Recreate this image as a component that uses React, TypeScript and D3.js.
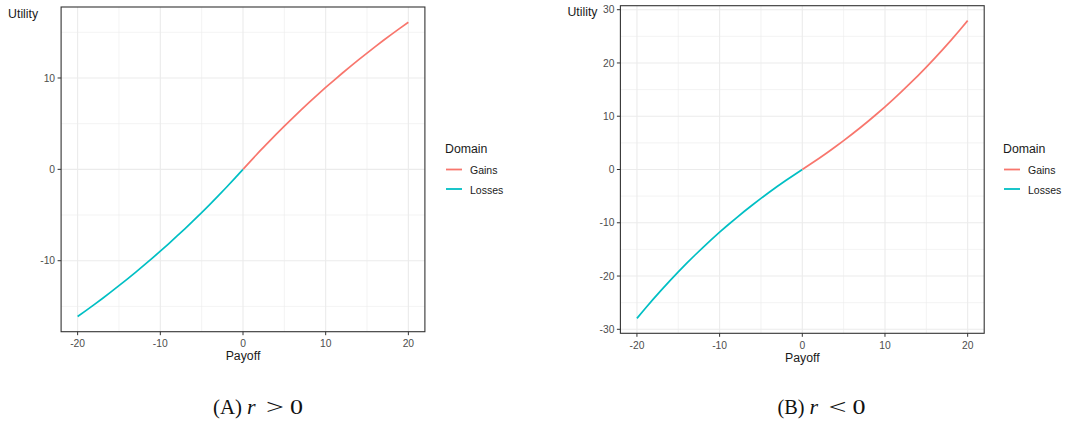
import React from "react";
import * as d3 from "d3";

const payoffLosses = [-20, -19, -18, -17, -16, -15, -14, -13, -12, -11, -10, -9, -8, -7, -6, -5, -4, -3, -2, -1, 0];
const payoffGains = [0, 1, 2, 3, 4, 5, 6, 7, 8, 9, 10, 11, 12, 13, 14, 15, 16, 17, 18, 19, 20];

// Panel A: r > 0
const lossesA = [-16.1, -15.46, -14.8, -14.13, -13.44, -12.73, -12.01, -11.27, -10.52, -9.74, -8.96, -8.15, -7.32, -6.48, -5.61, -4.73, -3.83, -2.9, -1.96, -0.99, 0];
const gainsA = [0, 0.99, 1.96, 2.9, 3.83, 4.73, 5.61, 6.48, 7.32, 8.15, 8.96, 9.74, 10.52, 11.27, 12.01, 12.73, 13.44, 14.13, 14.8, 15.46, 16.1];

// Panel B: r < 0
const lossesB = [-27.95, -26.1, -24.29, -22.55, -20.86, -19.22, -17.64, -16.1, -14.61, -13.17, -11.77, -10.42, -9.11, -7.84, -6.61, -5.42, -4.27, -3.15, -2.07, -1.02, 0];
const gainsB = [0, 1.02, 2.07, 3.15, 4.27, 5.42, 6.61, 7.84, 9.11, 10.42, 11.77, 13.17, 14.61, 16.1, 17.64, 19.22, 20.86, 22.55, 24.29, 26.1, 27.95];

const xMajor = [-20, -10, 0, 10, 20];
const xMinor = [-15, -5, 5, 15];
const yMajorA = [-10, 0, 10];
const yMinorA = [-15, -5, 5, 15];
const yMajorB = [-30, -20, -10, 0, 10, 20, 30];
const yMinorB = [-25, -15, -5, 5, 15, 25];

const legendLabels = ["Gains", "Losses"];
const colors = ["#F8766D", "#00BFC4"];

type PanelProps = {
  left: number;
  right: number;
  top: number;
  bottom: number;
  yDomain: [number, number];
  yMajor: number[];
  yMinor: number[];
  gains: number[];
  losses: number[];
  legendX: number;
  caption: string;
  captionSym: string;
  captionX: number;
  capW: number;
};

function Panel(p: PanelProps) {
  const x = d3.scaleLinear().domain([-22, 22]).range([p.left, p.right]);
  const y = d3.scaleLinear().domain(p.yDomain).range([p.bottom, p.top]);
  const line = d3
    .line<[number, number]>()
    .x((d) => x(d[0]))
    .y((d) => y(d[1]));
  const gPts = payoffGains.map((v, i) => [v, p.gains[i]] as [number, number]);
  const lPts = payoffLosses.map((v, i) => [v, p.losses[i]] as [number, number]);
  const font = "'Liberation Sans', Arial, sans-serif";
  const serif = "'Liberation Serif', 'DejaVu Serif', serif";
  const cw = p.capW;
  return (
    <g>
      <rect x={p.left} y={p.top} width={p.right - p.left} height={p.bottom - p.top} fill="white" />
      {xMinor.map((t) => (
        <line key={"xm" + t} x1={x(t)} x2={x(t)} y1={p.top} y2={p.bottom} stroke="#ebebeb" strokeWidth={0.6} />
      ))}
      {p.yMinor.map((t) => (
        <line key={"ym" + t} x1={p.left} x2={p.right} y1={y(t)} y2={y(t)} stroke="#ebebeb" strokeWidth={0.6} />
      ))}
      {xMajor.map((t) => (
        <line key={"xM" + t} x1={x(t)} x2={x(t)} y1={p.top} y2={p.bottom} stroke="#ebebeb" strokeWidth={1.1} />
      ))}
      {p.yMajor.map((t) => (
        <line key={"yM" + t} x1={p.left} x2={p.right} y1={y(t)} y2={y(t)} stroke="#ebebeb" strokeWidth={1.1} />
      ))}
      <path d={line(lPts) || ""} fill="none" stroke={colors[1]} strokeWidth={1.7} />
      <path d={line(gPts) || ""} fill="none" stroke={colors[0]} strokeWidth={1.7} />
      <rect x={p.left} y={p.top} width={p.right - p.left} height={p.bottom - p.top} fill="none" stroke="#333333" strokeWidth={1.1} />
      {xMajor.map((t) => (
        <g key={"xt" + t}>
          <line x1={x(t)} x2={x(t)} y1={p.bottom} y2={p.bottom + 3.5} stroke="#333333" strokeWidth={1} />
          <text x={x(t)} y={p.bottom + 15.5} textAnchor="middle" fontFamily={font} fontSize={10.3} fill="#4d4d4d">
            {t}
          </text>
        </g>
      ))}
      {p.yMajor.map((t) => (
        <g key={"yt" + t}>
          <line x1={p.left - 3.5} x2={p.left} y1={y(t)} y2={y(t)} stroke="#333333" strokeWidth={1} />
          <text x={p.left - 6} y={y(t) + 3.7} textAnchor="end" fontFamily={font} fontSize={10.3} fill="#4d4d4d">
            {t}
          </text>
        </g>
      ))}
      <text x={(p.left + p.right) / 2} y={p.bottom + 28.5} textAnchor="middle" fontFamily={font} fontSize={12.3} fill="#1a1a1a">
        Payoff
      </text>
      <text x={p.left - 53} y={p.top + 10.5} fontFamily={font} fontSize={12.3} fill="#1a1a1a" textAnchor="start">
        Utility
      </text>
      <text x={p.legendX} y={152.5} fontFamily={font} fontSize={12.3} fill="#1a1a1a">
        Domain
      </text>
      {legendLabels.map((lab, i) => (
        <g key={lab}>
          <line x1={p.legendX + 1} x2={p.legendX + 17} y1={169.5 + i * 19.5} y2={169.5 + i * 19.5} stroke={colors[i]} strokeWidth={1.8} />
          <text x={p.legendX + 25} y={174 + i * 19.5} fontFamily={font} fontSize={10.5} fill="#1a1a1a">
            {lab}
          </text>
        </g>
      ))}
      <g fontFamily={serif} fontSize={21} fill="#111">
        <text x={p.captionX} y={414} textLength={cw} lengthAdjust="spacingAndGlyphs">{p.caption}</text>
        <text x={p.captionX + cw + 5} y={414} fontStyle="italic" fontSize={22}>r</text>
        <text x={p.captionX + cw + 24} y={414} textLength={18} lengthAdjust="spacingAndGlyphs">{p.captionSym}</text>
        <text x={p.captionX + cw + 48} y={414} textLength={13} lengthAdjust="spacingAndGlyphs">0</text>
      </g>
    </g>
  );
}

export default function App() {
  return (
    <svg width={1065} height={422} style={{ position: "absolute", left: 0, top: 0, background: "white" }}>
      <rect x={0} y={0} width={1065} height={422} fill="white" />
      <Panel
        left={61.1}
        right={424.9}
        top={7}
        bottom={331.7}
        yDomain={[-17.77, 17.77]}
        yMajor={yMajorA}
        yMinor={yMinorA}
        gains={gainsA}
        losses={lossesA}
        legendX={445}
        caption="(A)"
        captionSym=">"
        captionX={213}
        capW={29}
      />
      <Panel
        left={620.4}
        right={984.2}
        top={5.7}
        bottom={333.3}
        yDomain={[-30.75, 30.75]}
        yMajor={yMajorB}
        yMinor={yMinorB}
        gains={gainsB}
        losses={lossesB}
        legendX={1003}
        caption="(B)"
        captionSym="<"
        captionX={777.5}
        capW={27}
      />
    </svg>
  );
}
